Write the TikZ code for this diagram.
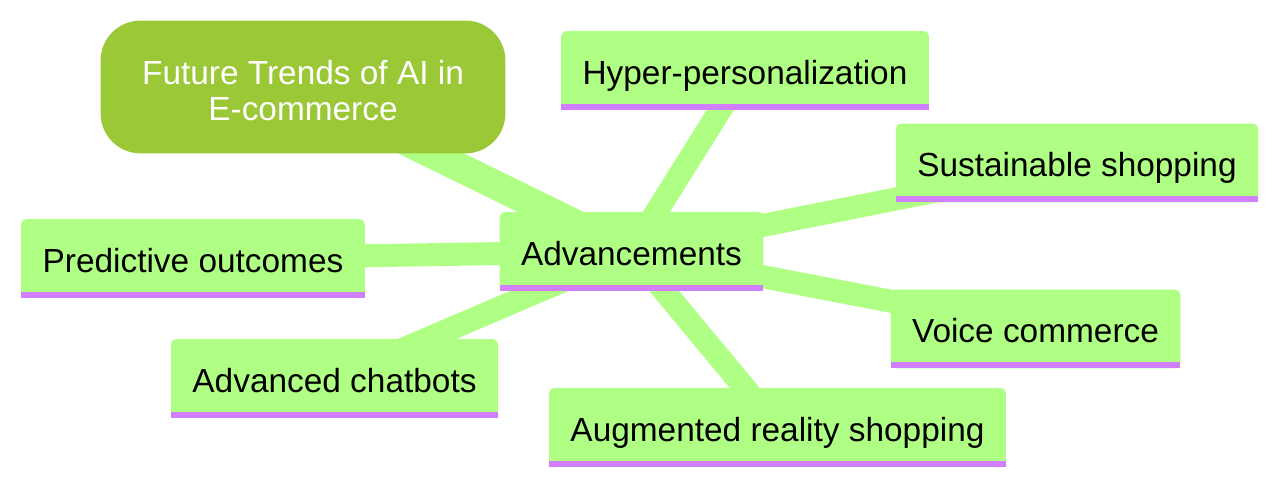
\documentclass[tikz,border=0pt]{standalone}
\usepackage{fontspec}
\setmainfont{Liberation Sans}
\usetikzlibrary{positioning}
\definecolor{LeafGreen}{HTML}{B0FF85}
\definecolor{RootGreen}{HTML}{9BC837}
\definecolor{BarPurple}{HTML}{D27FFF}
\pgfdeclarelayer{edges}
\pgfdeclarelayer{boxes}
\pgfsetlayers{edges,boxes,main}
\tikzset{
  topic/.style={inner xsep=10.5pt, inner ysep=0pt, minimum height=39pt,
    text height=14pt, text depth=0pt, font=\fontsize{16.7}{18}\selectfont},
  rootbox/.style={minimum width=202pt, minimum height=66pt, inner sep=0pt,
    align=center, text=white, font=\fontsize{16.7}{18}\selectfont},
  branchline/.style={LeafGreen, line width=11.5pt},
  trunkline/.style={LeafGreen, line width=14.5pt}
}

\begin{document}
\begin{tikzpicture}[x=0.5pt, y=-0.5pt]
        \useasboundingbox (0,0) rectangle (1280,485);

        % --- central topic and its parent ---
        \node[rootbox] (trends) at (303, 90.8) {Future Trends of AI in\\E-commerce};
        \node[topic] (adv) at (631.5, 251.5) {Advancements};

        % --- leaves ---
        \node[topic] (hyp) at (745, 70.5) {Hyper-personalization};
        \node[topic] (sus) at (1077, 163) {Sustainable shopping};
        \node[topic] (pre) at (193, 258.5) {Predictive outcomes};
        \node[topic] (voi) at (1035.5, 329) {Voice commerce};
        \node[topic] (cha) at (334.5, 378.5) {Advanced chatbots};
        \node[topic] (aug) at (777.5, 427.5) {Augmented reality shopping};

        % Boxes
        \begin{pgfonlayer}{boxes}
          \fill[RootGreen, rounded corners=20pt] ([yshift=1.9pt]trends.south west) rectangle ([yshift=1.9pt]trends.north east);
          \foreach \n in {hyp,sus,adv,pre,voi,cha,aug}{
            \fill[LeafGreen, rounded corners=2.5pt] (\n.south west) rectangle (\n.north east);
            \fill[LeafGreen] (\n.south west) rectangle ([yshift=6pt]\n.south east);
            \fill[BarPurple] (\n.south west) rectangle ([yshift=3pt]\n.south east);
          }
        \end{pgfonlayer}

        % Connectors
        \begin{pgfonlayer}{edges}
          \draw[trunkline] (trends.center) -- (adv.center);
          \foreach \n in {hyp,sus,pre,voi,cha,aug}
            \draw[branchline] (adv.center) -- (\n.center);
        \end{pgfonlayer}

    \end{tikzpicture}
\end{document}
